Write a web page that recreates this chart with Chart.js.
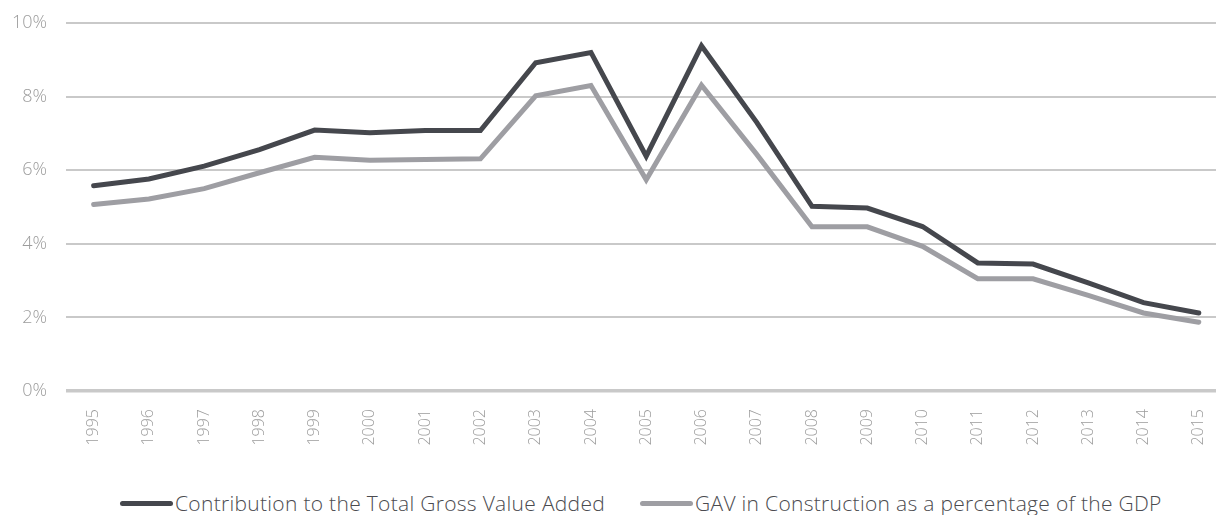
<!DOCTYPE html>
<html>
<head>
<meta charset="utf-8">
<script src="https://cdn.jsdelivr.net/npm/chart.js@4/dist/chart.umd.min.js"></script>
<style>
  html, body { margin: 0; padding: 0; background: #fff; overflow: hidden; }
  #wrap { position: relative; width: 1216px; height: 515px; overflow: hidden; }
  #chart { position: absolute; left: 0; top: 0; }
  .legend-item { position: absolute; top: 489px; height: 28px; display: flex; align-items: center;
    font-family: 'Open Sans', sans-serif; font-weight: 300; font-size: 21px; letter-spacing: 0.3px;
    color: #4b4b4f; white-space: nowrap; }
  .legend-line { display: inline-block; width: 53px; height: 5px; border-radius: 3px; margin-right: 2px; }
</style>
</head>
<body>
<div id="wrap">
  <canvas id="chart" width="1228" height="451"></canvas>
  <div class="legend-item" id="leg0" style="left:120px"></div>
  <div class="legend-item" id="leg1" style="left:640px"></div>
</div>
<script>
// Construction sector share, 1995–2015 (percent)
const years = ['1995','1996','1997','1998','1999','2000','2001','2002','2003','2004','2005',
               '2006','2007','2008','2009','2010','2011','2012','2013','2014','2015'];
const contributionGVA = [5.58, 5.76, 6.11, 6.56, 7.09, 7.02, 7.08, 7.08, 8.92, 9.2, 6.38,
                         9.38, 7.3, 5.02, 4.97, 4.47, 3.48, 3.45, 2.94, 2.4, 2.12];
const gavShareGDP = [5.07, 5.22, 5.5, 5.93, 6.35, 6.27, 6.29, 6.31, 8.02, 8.3, 5.74,
                     8.31, 6.43, 4.46, 4.46, 3.93, 3.05, 3.05, 2.6, 2.12, 1.87];
const yTicks = [0, 2, 4, 6, 8, 10];
const seriesNames = ['Contribution to the Total Gross Value Added',
                     'GAV in Construction as a percentage of the GDP'];
const seriesColors = ['#45474d', '#9e9ea3'];

const tickFont = { family: "'Open Sans', sans-serif", weight: '300' };

new Chart(document.getElementById('chart'), {
  type: 'line',
  data: {
    labels: years,
    datasets: [
      { label: seriesNames[0], data: contributionGVA, borderColor: seriesColors[0] },
      { label: seriesNames[1], data: gavShareGDP, borderColor: seriesColors[1] }
    ].map(d => Object.assign(d, {
      borderWidth: 5, pointRadius: 0, pointHoverRadius: 0, tension: 0,
      borderCapStyle: 'round', borderJoinStyle: 'miter', fill: false
    }))
  },
  options: {
    responsive: false,
    animation: false,
    layout: { padding: { top: 23, right: 0, left: 0, bottom: 0 } },
    plugins: { legend: { display: false }, tooltip: { enabled: false } },
    scales: {
      x: {
        offset: true,
        grid: { display: false },
        border: { display: false },
        ticks: { color: '#9c9c9c', font: Object.assign({ size: 16 }, tickFont),
                 minRotation: 90, maxRotation: 90, padding: 10, autoSkip: false },
        afterFit: axis => { axis.height = 60; }
      },
      y: {
        min: 0, max: 10,
        afterBuildTicks: axis => { axis.ticks = yTicks.map(v => ({ value: v })); },
        border: { display: false },
        grid: {
          drawTicks: false,
          color: '#c9c9c9',
          lineWidth: c => (c.tick && c.tick.value === 0 ? 3.5 : 2)
        },
        ticks: { color: '#9c9c9c', font: Object.assign({ size: 18 }, tickFont), padding: 19,
                 callback: v => v + '%' },
        afterFit: axis => {
          axis.width = 66;
          axis.paddingTop = 0;
          axis.paddingBottom = 0;
        }
      }
    }
  }
});

// Legend entries below the plot
seriesNames.forEach((name, i) => {
  const el = document.getElementById('leg' + i);
  const line = document.createElement('span');
  line.className = 'legend-line';
  line.style.background = seriesColors[i];
  el.appendChild(line);
  el.appendChild(document.createTextNode(name));
});
</script>
</body>
</html>
